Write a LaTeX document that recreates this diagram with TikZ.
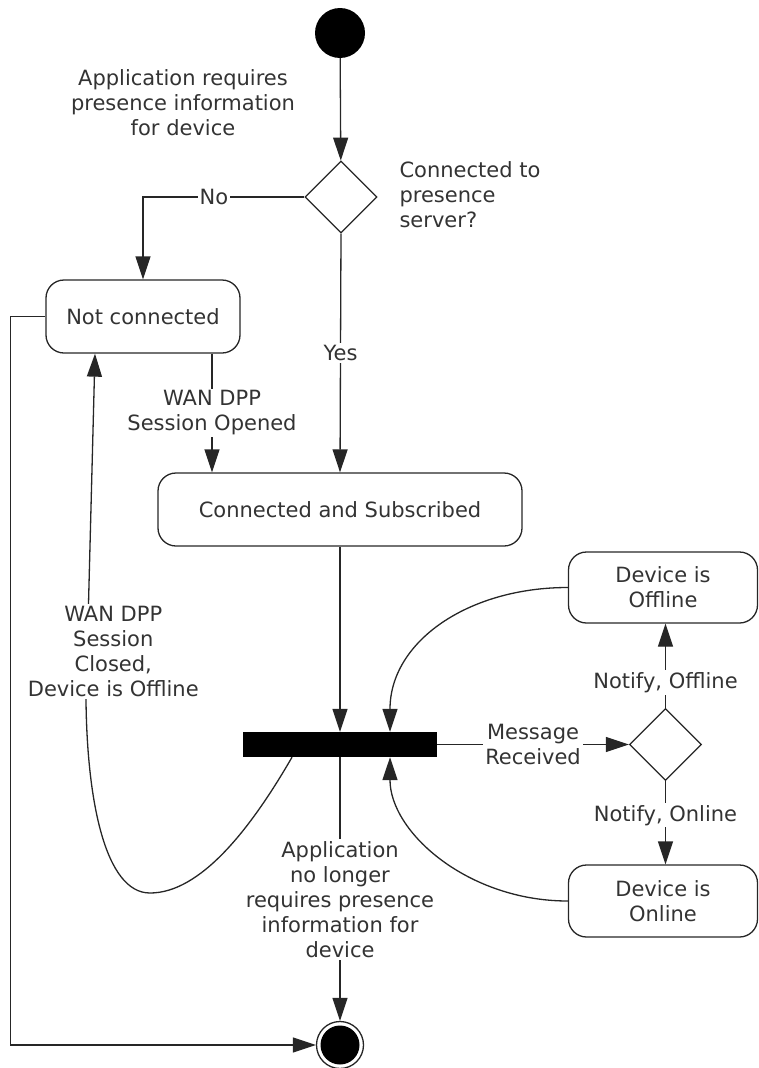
\documentclass[tikz,border=0pt]{standalone}
\usepackage{fontspec}
\setmainfont{DejaVu Sans}
\usetikzlibrary{shapes.geometric,arrows.meta}
\tikzstyle{state} = [rectangle, rounded corners=18pt, draw=black!85, line width=1.3pt, align=center]
\tikzstyle{choice} = [diamond, draw=black!85, line width=1.3pt, minimum width=72pt, minimum height=72pt, inner sep=0pt]
\tikzstyle{flow} = [draw=black!85, line width=1.3pt, -{Triangle[length=23pt,width=15pt]}]
\tikzstyle{guard} = [fill=white, inner sep=2pt, align=center]
\newcommand{\diagfont}{\fontsize{21}{25}\selectfont}

\begin{document}
\begin{tikzpicture}[x=1pt, y=-1pt, every node/.style={font=\diagfont, text=black!80}]
\useasboundingbox (0,0) rectangle (759,1068);
% states
\node [circle, fill=black, minimum size=50pt, inner sep=0pt] (start) at (340,33) {};
\node [choice] (q1) at (341,197) {};
\node [state, minimum width=194pt, minimum height=73pt] (notconn) at (143,316.5) {Not connected};
\node [state, minimum width=364pt, minimum height=73pt] (cas) at (340,509.5) {Connected and Subscribed};
\node [rectangle, fill=black, minimum width=194pt, minimum height=25pt, inner sep=0pt] (bar) at (340,744.5) {};
\node [choice] (q2) at (665.5,744.5) {};
\node [state, minimum width=189pt, minimum height=71pt] (offline) at (663,587.5) {Device is\\Offline};
\node [state, minimum width=189pt, minimum height=72pt] (online) at (663,901) {Device is\\Online};
\node [circle, draw=black!85, line width=1.3pt, minimum size=47pt, inner sep=0pt,
  path picture={\fill[black] (path picture bounding box.center) circle (19.5pt);}] (final) at (340,1045) {};
% free texts
\node [align=center] (need) at (183,103) {Application requires\\presence information\\for device};
\node [align=left, anchor=west] (ask) at (396,195) {Connected to\\presence\\server?};
% transitions
\draw [flow] (start) -- (q1);
\draw [flow] (q1.west) -| (notconn.north) node [guard, pos=0.28] {No};
\draw [flow] (q1.south) -- (cas.north) node [guard, midway] {Yes};
\draw [flow] ([xshift=69pt]notconn.south) -- ([xshift=69pt]notconn.south |- cas.north) node [guard, midway] {WAN DPP\\Session Opened};
\draw [flow] (cas.south) -- (bar.north);
\draw [flow] (bar.east) -- (q2.west) node [guard, midway] {Message\\Received};
\draw [flow] (q2.north) -- (q2.north |- offline.south) node [guard, pos=0.3] {Notify, Offline};
\draw [flow] (q2.south) -- (q2.south |- online.north) node [guard, pos=0.41] {Notify, Online};
\draw [flow] (bar.south) -- (final.north) node [guard, pos=0.54] {Application\\no longer\\requires presence\\information for\\device};
\draw [flow] (offline.west) .. controls +(-100,0) and +(0,-90) .. ([xshift=50pt]bar.north);
\draw [flow] (online.west) .. controls +(-100,0) and +(0,75) .. ([xshift=50pt]bar.south);
\draw [flow] (notconn.west) -- ([xshift=-35pt]notconn.west) |- (final.west);
\draw [flow] ([xshift=-48pt]bar.south) .. controls (250,830) and (200,893) .. (150,893)
  .. controls (105,893) and (87,800) .. (86,700) -- ([xshift=-48pt]notconn.south)
  node [guard, pos=0.14, xshift=26pt] {WAN DPP\\Session\\Closed,\\Device is Offline};
\end{tikzpicture}
\end{document}
